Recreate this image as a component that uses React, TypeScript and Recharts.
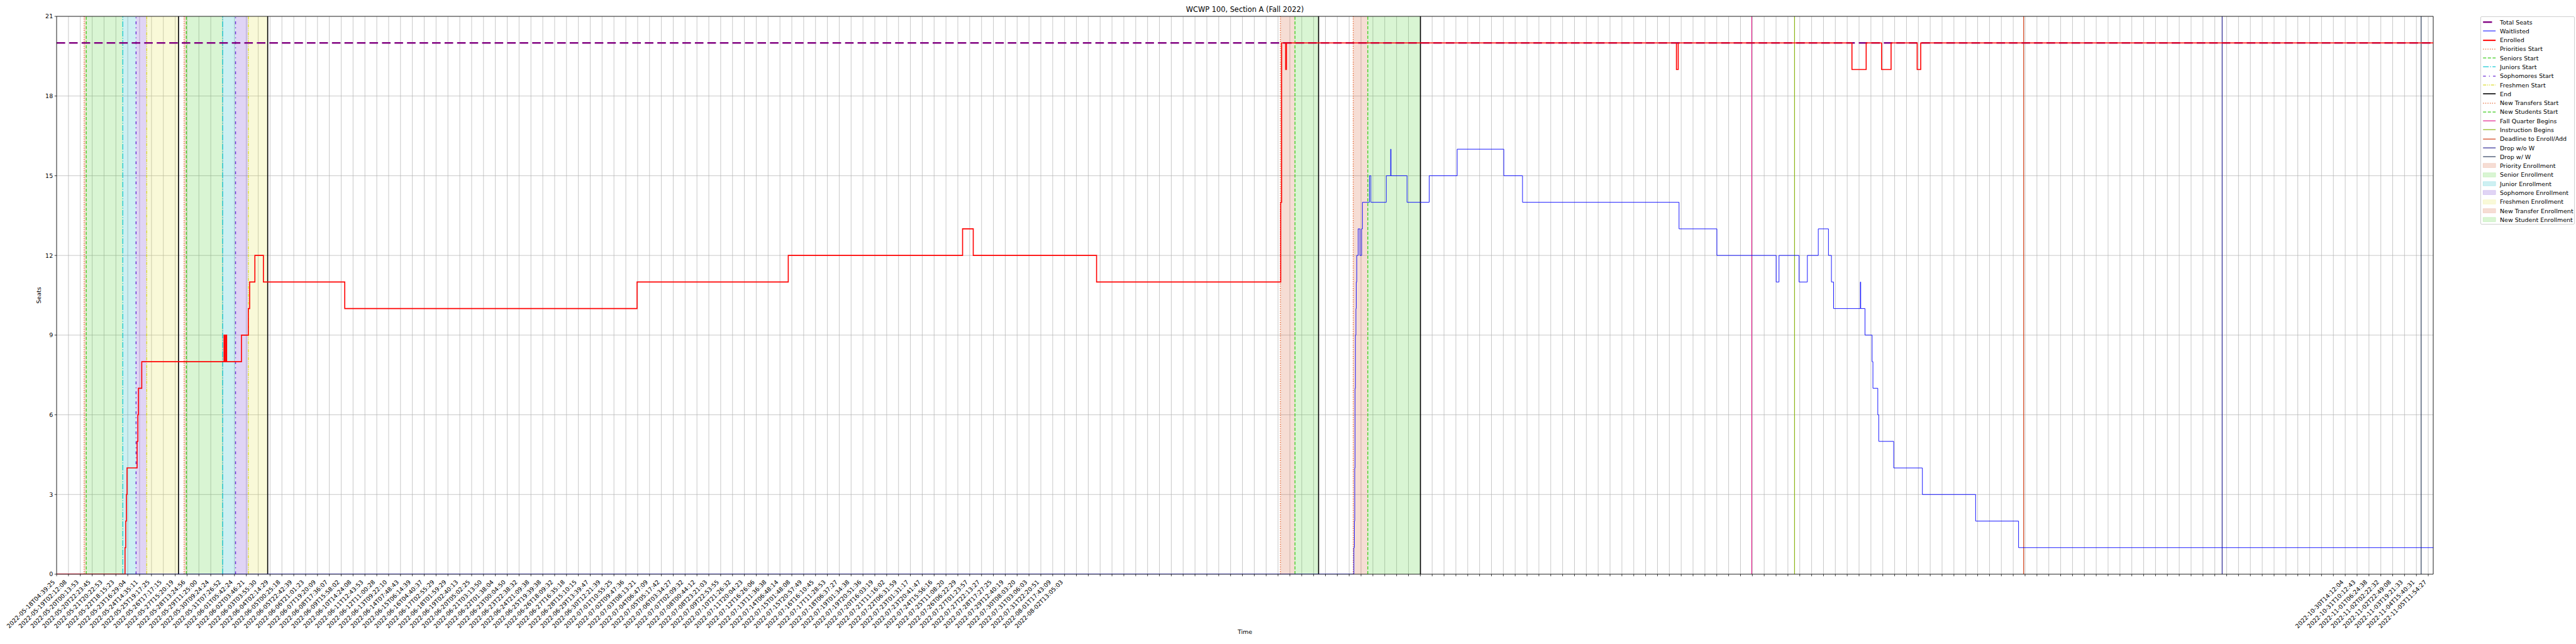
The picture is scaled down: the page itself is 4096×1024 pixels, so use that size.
import {
  ComposedChart,
  Line,
  XAxis,
  YAxis,
  CartesianGrid,
  ReferenceLine,
  ReferenceArea,
  Label,
} from 'recharts'

// sample-time labels, one per grid tick (every Nth snapshot); '' where unread
const firstTickLabels: string[] = [
  '2022-05-18T04:39:25', '2022-05-19T02:12:08', '2022-05-20T00:13:53', '2022-05-20T22:23:45',
  '2022-05-21T20:22:53', '2022-05-22T18:15:23', '2022-05-23T16:29:04', '2022-05-24T14:35:11',
  '2022-05-25T19:17:25', '2022-05-26T17:17:15', '2022-05-27T15:20:19', '2022-05-28T13:24:56',
  '2022-05-29T11:25:00', '2022-05-30T09:24:24', '2022-05-31T07:26:52', '2022-06-01T05:42:24',
  '2022-06-02T03:46:21', '2022-06-03T03:55:30', '2022-06-04T02:14:29', '2022-06-05T00:25:18',
  '2022-06-05T22:42:39', '2022-06-06T21:01:23', '2022-06-07T19:20:09', '2022-06-08T17:36:07',
  '2022-06-09T15:58:02', '2022-06-10T14:24:08', '2022-06-11T12:43:53', '2022-06-12T11:00:28',
  '2022-06-13T09:22:10', '2022-06-14T07:48:43', '2022-06-15T06:14:39', '2022-06-16T04:40:37',
  '2022-06-17T02:55:29', '2022-06-18T01:59:29', '2022-06-19T02:40:13', '2022-06-20T05:02:25',
  '2022-06-21T03:13:50', '2022-06-22T01:38:04', '2022-06-23T00:04:50', '2022-06-23T22:38:32',
  '2022-06-24T21:09:38', '2022-06-25T19:39:38', '2022-06-26T18:09:32', '2022-06-27T16:35:18',
  '2022-06-28T15:10:15', '2022-06-29T13:39:47', '2022-06-30T12:21:39', '2022-07-01T10:55:25',
  '2022-07-02T09:47:36', '2022-07-03T08:13:21', '2022-07-04T06:47:09', '2022-07-05T05:17:42',
  '2022-07-06T03:34:27', '2022-07-07T02:09:32', '2022-07-08T00:44:12', '2022-07-08T23:21:03',
  '2022-07-09T22:53:55', '2022-07-10T21:26:32', '2022-07-11T20:04:23', '2022-07-12T16:26:06',
  '2022-07-13T11:36:38', '2022-07-14T06:48:14', '2022-07-15T01:48:08', '2022-07-15T20:57:49',
  '2022-07-16T16:10:45', '2022-07-17T11:28:53', '2022-07-18T06:37:27', '2022-07-19T01:34:38',
  '2022-07-19T20:51:36', '2022-07-20T16:03:19', '2022-07-21T11:16:02', '2022-07-22T06:31:59',
  '2022-07-23T01:31:17', '2022-07-23T20:41:47', '2022-07-24T15:56:16', '2022-07-25T11:08:20',
  '2022-07-26T06:22:29', '2022-07-27T01:23:57', '2022-07-27T22:13:27', '2022-07-28T17:27:25',
  '2022-07-29T12:40:19', '2022-07-30T08:03:20', '2022-07-31T03:06:03', '2022-07-31T22:20:51',
  '2022-08-01T17:43:09', '2022-08-02T13:05:03',
]
// last ticks, 193..200
const lastTickLabels: string[] = [
  '2022-10-30T14:12:04', '2022-10-31T10:12:43', '2022-11-01T06:24:38', '2022-11-02T02:22:32',
  '2022-11-02T22:49:08', '2022-11-03T19:21:33', '2022-11-04T15:40:31', '2022-11-05T11:54:27',
]
const tickCount = 201
const xMax = 200.42

// enrolled count, step changes (x in tick units)
const enrolledX = [
  0, 5.77, 5.83, 5.89, 5.94, 6.79, 6.85, 6.9, 7.18, 14.12, 14.18, 14.27, 14.34, 15.59, 16.17,
  16.28, 16.72, 17.44, 24.3, 48.95, 61.7, 76.4, 77.3, 87.7, 103.23, 103.3, 103.65, 103.71,
  136.6, 136.75, 151.4, 152.6, 153.9, 154.7, 156.9, 157.2, xMax,
]
const enrolledY = [
  0, 1, 2, 3, 4, 5, 6, 7, 8, 9, 8, 9, 8, 9, 10,
  11, 12, 11, 10, 11, 12, 13, 12, 11, 14, 20, 19, 20,
  19, 20, 19, 20, 19, 20, 19, 20, 20,
]

const waitlistX = [
  0, 109.4, 109.44, 109.47, 109.5, 109.53, 109.57, 109.6, 109.64, 109.76, 109.91, 110.05, 110.12,
  110.71, 110.83, 112.13, 112.5, 112.53, 113.88, 115.75, 118.11, 122.04, 123.62, 136.82, 140.01,
  145.01, 145.25, 146.94, 147.64, 148.56, 149.42, 149.67, 149.85, 152.11, 152.14, 152.5, 153.1,
  153.17, 153.58, 153.66, 154.92, 157.34, 161.83, 165.45, xMax,
]
const waitlistY = [
  0, 1, 2, 4, 7, 9, 10, 11, 12, 13, 12, 13, 14,
  15, 14, 15, 16, 15, 14, 15, 16, 15, 14, 13, 12,
  11, 12, 11, 12, 13, 12, 11, 10, 11, 10, 9, 8,
  7, 6, 5, 4, 3, 2, 1, 1,
]

const seatsX = [0, xMax]
const seatsY = [20, 20]

// event dates on the same axis
const prioritiesStart = [2.32, 10.75, 103.2]
const seniorsStart = [2.5, 10.94, 104.43]
const juniorsStart = [5.58, 14.0]
const sophomoresStart = [6.7, 15.09]
const freshmenStart = [7.6, 16.17]
const endMarks = [10.28, 17.8, 106.42, 115.01]
const newTransfersStart = [109.34]
const newStudentsStart = [110.57]
const fallQuarterBegins = [142.95]
const instructionBegins = [146.56]
const enrollDeadline = [165.88]
const dropNoW = [182.62]
const dropW = [199.4]

const C = {
  prio: '#e5622c',
  senior: '#3ccc1c',
  junior: '#14c8d2',
  soph: '#6a2ad4',
  fresh: '#dcdc28',
  end: '#000000',
  fall: '#e0208c',
  instr: '#8ab414',
  deadline: '#d23c14',
  dropNoW: '#2c2894',
  dropW: '#2c3c5c',
}
const SHADE = {
  prio: '#d2552a',
  senior: '#41cd23',
  junior: '#05b4be',
  soph: '#6428cd',
  fresh: '#e1e13c',
}
const DASH = {
  dotted: '1.4 2.2',
  dashed: '5 2.6',
  dashdot: '9 2.3 1.4 2.3',
  loose: '4.5 5 1.4 5',
  dashdotdot: '5 1.6 1.4 1.6 1.4 1.6',
}

const FONT = 'DejaVu Sans, sans-serif'

const tickLabels: string[] = Array.from({ length: tickCount }, (_, i) => {
  if (i < firstTickLabels.length) return firstTickLabels[i]
  const j = i - (tickCount - lastTickLabels.length)
  return j >= 0 ? lastTickLabels[j] : ''
})

const toPoints = (xs: number[], ys: number[]) => xs.map((x, i) => ({ x, y: ys[i] }))

const enrolled = toPoints(enrolledX, enrolledY)
const waitlisted = toPoints(waitlistX, waitlistY)
const seats = toPoints(seatsX, seatsY)

const spans = [
  ...prioritiesStart.map((s, i) => ({ x1: s, x2: seniorsStart[i], fill: SHADE.prio })),
  ...juniorsStart.map((j, i) => ({ x1: seniorsStart[i], x2: j, fill: SHADE.senior })),
  { x1: seniorsStart[2], x2: endMarks[2], fill: SHADE.senior },
  ...juniorsStart.map((j, i) => ({ x1: j, x2: sophomoresStart[i], fill: SHADE.junior })),
  ...sophomoresStart.map((s, i) => ({ x1: s, x2: freshmenStart[i], fill: SHADE.soph })),
  ...freshmenStart.map((f, i) => ({ x1: f, x2: endMarks[i], fill: SHADE.fresh })),
  { x1: newTransfersStart[0], x2: newStudentsStart[0], fill: SHADE.prio },
  { x1: newStudentsStart[0], x2: endMarks[3], fill: SHADE.senior },
]

const vlines = [
  ...prioritiesStart.map((x) => ({ x, color: C.prio, dash: DASH.dotted, w: 1.3 })),
  ...seniorsStart.map((x) => ({ x, color: C.senior, dash: DASH.dashed, w: 1.3 })),
  ...juniorsStart.map((x) => ({ x, color: C.junior, dash: DASH.dashdot, w: 1.3 })),
  ...sophomoresStart.map((x) => ({ x, color: C.soph, dash: DASH.loose, w: 1.4 })),
  ...freshmenStart.map((x) => ({ x, color: C.fresh, dash: DASH.dashdotdot, w: 1.3 })),
  ...endMarks.map((x) => ({ x, color: C.end, dash: undefined, w: 1.6 })),
  ...newTransfersStart.map((x) => ({ x, color: C.prio, dash: DASH.dotted, w: 1.3 })),
  ...newStudentsStart.map((x) => ({ x, color: C.senior, dash: DASH.dashed, w: 1.3 })),
  ...fallQuarterBegins.map((x) => ({ x, color: C.fall, dash: undefined, w: 1.2 })),
  ...instructionBegins.map((x) => ({ x, color: C.instr, dash: undefined, w: 1.2 })),
  ...enrollDeadline.map((x) => ({ x, color: C.deadline, dash: undefined, w: 1.2 })),
  ...dropNoW.map((x) => ({ x, color: C.dropNoW, dash: undefined, w: 1.2 })),
  ...dropW.map((x) => ({ x, color: C.dropW, dash: undefined, w: 1.2 })),
]

type LegendItem = { label: string; kind: 'line' | 'patch'; color: string; w?: number; dash?: string }
const legendItems: LegendItem[] = [
  { label: 'Total Seats', kind: 'line', color: '#800080', w: 2.4 },
  { label: 'Waitlisted', kind: 'line', color: '#0000ff', w: 1 },
  { label: 'Enrolled', kind: 'line', color: '#ff0000', w: 2 },
  { label: 'Priorities Start', kind: 'line', color: C.prio, w: 1.3, dash: DASH.dotted },
  { label: 'Seniors Start', kind: 'line', color: C.senior, w: 1.3, dash: DASH.dashed },
  { label: 'Juniors Start', kind: 'line', color: C.junior, w: 1.3, dash: DASH.dashdot },
  { label: 'Sophomores Start', kind: 'line', color: C.soph, w: 1.4, dash: DASH.loose },
  { label: 'Freshmen Start', kind: 'line', color: C.fresh, w: 1.3, dash: DASH.dashdotdot },
  { label: 'End', kind: 'line', color: C.end, w: 1.6 },
  { label: 'New Transfers Start', kind: 'line', color: C.prio, w: 1.3, dash: DASH.dotted },
  { label: 'New Students Start', kind: 'line', color: C.senior, w: 1.3, dash: DASH.dashed },
  { label: 'Fall Quarter Begins', kind: 'line', color: C.fall, w: 1.2 },
  { label: 'Instruction Begins', kind: 'line', color: C.instr, w: 1.2 },
  { label: 'Deadline to Enroll/Add', kind: 'line', color: C.deadline, w: 1.2 },
  { label: 'Drop w/o W', kind: 'line', color: C.dropNoW, w: 1.2 },
  { label: 'Drop w/ W', kind: 'line', color: C.dropW, w: 1.2 },
  { label: 'Priority Enrollment', kind: 'patch', color: SHADE.prio },
  { label: 'Senior Enrollment', kind: 'patch', color: SHADE.senior },
  { label: 'Junior Enrollment', kind: 'patch', color: SHADE.junior },
  { label: 'Sophomore Enrollment', kind: 'patch', color: SHADE.soph },
  { label: 'Freshmen Enrollment', kind: 'patch', color: SHADE.fresh },
  { label: 'New Transfer Enrollment', kind: 'patch', color: SHADE.prio },
  { label: 'New Student Enrollment', kind: 'patch', color: SHADE.senior },
]

function TimeTick(props: any) {
  const { x, y, payload } = props
  const text = tickLabels[payload.value] ?? ''
  if (!text) return <g />
  const ax = x - 2
  const ay = y + 8
  return (
    <text
      x={ax}
      y={ay}
      transform={`rotate(-45 ${ax} ${ay})`}
      textAnchor="end"
      fontSize={9.5}
      fontFamily={FONT}
      fill="#000"
    >
      {text}
    </text>
  )
}

function ChartLegend() {
  const rowH = 14.28
  return (
    <div
      style={{
        position: 'absolute',
        left: 3944,
        top: 25.5,
        width: 150,
        height: 331,
        border: '1px solid #d0d0d0',
        borderRadius: 2,
        background: 'rgba(255,255,255,0.8)',
        boxSizing: 'border-box',
        fontFamily: FONT,
        fontSize: 9.5,
        color: '#000',
      }}
    >
      {legendItems.map((it, i) => (
        <div
          key={it.label}
          style={{
            position: 'absolute',
            left: 0,
            top: 1.5 + i * rowH,
            height: rowH,
            display: 'flex',
            alignItems: 'center',
            whiteSpace: 'nowrap',
          }}
        >
          <svg width={30} height={rowH} style={{ display: 'block' }}>
            {it.kind === 'patch' ? (
              <rect x={3.2} y={rowH / 2 - 3.4} width={20} height={6.8} fill={it.color} fillOpacity={0.2} stroke={it.color} strokeOpacity={0.2} strokeWidth={0.7} />
            ) : it.label === 'Total Seats' ? (
              <line x1={3.2} x2={17.5} y1={rowH / 2} y2={rowH / 2} stroke={it.color} strokeWidth={it.w} />
            ) : (
              <line x1={3.2} x2={23.2} y1={rowH / 2} y2={rowH / 2} stroke={it.color} strokeWidth={it.w} strokeDasharray={it.dash} />
            )}
          </svg>
          <span>{it.label}</span>
        </div>
      ))}
    </div>
  )
}

export default function App() {
  const ticks = Array.from({ length: tickCount }, (_, i) => i)
  return (
    <div style={{ position: 'relative', width: 4092, height: 1023, fontFamily: FONT, background: '#fff' }}>
      <style>{'body{margin:0}'}</style>
      <div
        style={{
          position: 'absolute',
          left: 1979.5,
          top: 8,
          transform: 'translateX(-50%)',
          fontSize: 11.4,
          whiteSpace: 'nowrap',
          color: '#000',
        }}
      >
        WCWP 100, Section A (Fall 2022)
      </div>
      <ComposedChart width={4092} height={1023} margin={{ top: 26, right: 223, bottom: 10, left: 30 }}>
        <CartesianGrid stroke="#b0b0b0" strokeWidth={0.7} />
        {spans.map((s, i) => (
          <ReferenceArea key={`s${i}`} x1={s.x1} x2={s.x2} y1={0} y2={21} fill={s.fill} fillOpacity={0.2} stroke="none" />
        ))}
        <XAxis
          type="number"
          dataKey="x"
          domain={[0, xMax]}
          ticks={ticks}
          interval={0}
          allowDataOverflow
          height={100}
          tickSize={3.3}
          tickMargin={2}
          stroke="#000"
          strokeWidth={0.75}
          tick={<TimeTick />}
        >
          <Label
            content={(p: any) => {
              const vb = p.viewBox
              return (
                <text x={vb.x + vb.width / 2} y={vb.y + 95} textAnchor="middle" fontSize={9.5} fontFamily={FONT} fill="#000">
                  Time
                </text>
              )
            }}
          />
        </XAxis>
        <YAxis
          type="number"
          domain={[0, 21]}
          ticks={[0, 3, 6, 9, 12, 15, 18, 21]}
          allowDataOverflow
          width={60}
          tickSize={3.3}
          tickMargin={2.5}
          stroke="#000"
          strokeWidth={0.75}
          tick={{ fontSize: 9.5, fill: '#000', fontFamily: FONT }}
        >
          <Label
            content={(p: any) => {
              const vb = p.viewBox
              const cx = vb.x + vb.width - 29
              const cy = vb.y + vb.height / 2
              return (
                <text x={cx} y={cy} transform={`rotate(-90 ${cx} ${cy})`} textAnchor="middle" dominantBaseline="central" fontSize={9.5} fontFamily={FONT} fill="#000">
                  Seats
                </text>
              )
            }}
          />
        </YAxis>
        {vlines.map((v, i) => (
          <ReferenceLine key={`v${i}`} x={v.x} stroke={v.color} strokeWidth={v.w} strokeDasharray={v.dash} />
        ))}
        <ReferenceLine y={21} stroke="#000" strokeWidth={0.75} />
        <ReferenceLine x={xMax} stroke="#000" strokeWidth={0.75} />
        <Line data={seats} dataKey="y" type="linear" stroke="#800080" strokeWidth={2.4} strokeDasharray="13.6 6.3" dot={false} activeDot={false} isAnimationActive={false} />
        <Line data={waitlisted} dataKey="y" type="stepAfter" stroke="#0000ff" strokeWidth={0.9} dot={false} activeDot={false} isAnimationActive={false} />
        <Line data={enrolled} dataKey="y" type="stepAfter" stroke="#ff0000" strokeWidth={1.6} dot={false} activeDot={false} isAnimationActive={false} />
      </ComposedChart>
      <ChartLegend />
    </div>
  )
}
